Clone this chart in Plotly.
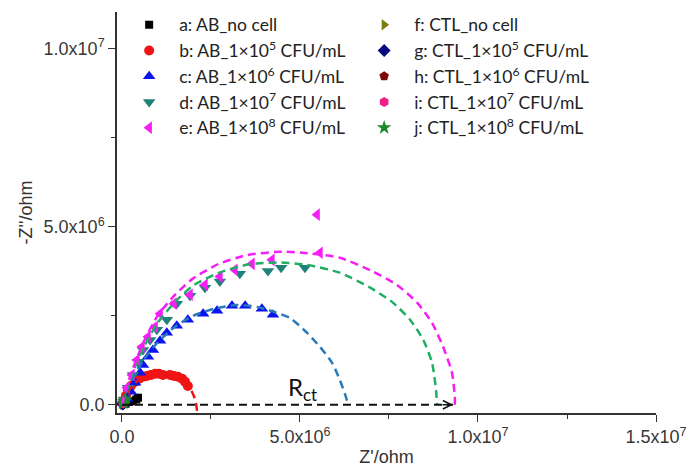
import plotly.graph_objects as go

# ---------------- data (values in ohm, units of 1e6) ----------------
M = 1e6
names = ["a: AB_no cell", "b: AB_1×10<sup>5</sup> CFU/mL", "c: AB_1×10<sup>6</sup> CFU/mL",
         "d: AB_1×10<sup>7</sup> CFU/mL", "e: AB_1×10<sup>8</sup> CFU/mL",
         "f: CTL_no cell", "g: CTL_1×10<sup>5</sup> CFU/mL", "h: CTL_1×10<sup>6</sup> CFU/mL",
         "i: CTL_1×10<sup>7</sup> CFU/mL", "j: CTL_1×10<sup>8</sup> CFU/mL"]

a_x = [0.10, 0.20, 0.30, 0.40, 0.45]
a_y = [0.03, 0.08, 0.10, 0.15, 0.20]

b_x = [0.06, 0.11, 0.17, 0.25, 0.37, 0.48, 0.59, 0.70, 0.81, 0.93, 1.04, 1.15, 1.35, 1.46, 1.57, 1.69, 1.77, 1.85]
b_y = [0.08, 0.25, 0.39, 0.53, 0.65, 0.73, 0.79, 0.81, 0.84, 0.87, 0.87, 0.84, 0.84, 0.81, 0.79, 0.73, 0.65, 0.53]

c_x = [0.06, 0.14, 0.25, 0.37, 0.51, 0.59, 0.73, 0.87, 1.07, 1.26, 1.54, 1.85, 2.28, 2.67, 3.09, 3.46, 3.93, 4.24]
c_y = [0.06, 0.17, 0.37, 0.62, 0.90, 1.12, 1.35, 1.54, 1.80, 2.02, 2.22, 2.39, 2.56, 2.64, 2.78, 2.78, 2.70, 2.53]

d_x = [0.06, 0.17, 0.31, 0.45, 0.59, 0.79, 0.98, 1.26, 1.54, 1.91, 2.33, 2.75, 3.31, 4.10, 4.47, 5.14]
d_y = [0.14, 0.48, 0.84, 1.21, 1.54, 1.82, 2.11, 2.39, 2.84, 3.06, 3.29, 3.46, 3.68, 3.76, 3.85, 3.85]

e_x = [0.03, 0.14, 0.28, 0.42, 0.56, 0.73, 0.93, 1.07, 1.46, 1.91, 2.33, 2.75, 3.17, 3.65, 4.21, 5.48, 5.56]
e_y = [0.14, 0.48, 0.84, 1.26, 1.63, 1.91, 2.19, 2.56, 2.84, 3.09, 3.37, 3.60, 3.79, 3.96, 4.07, 5.34, 4.27]

f_x = [0.02, 0.04, 0.06]
f_y = [0.01, 0.03, 0.05]
g_x = [0.02, 0.04, 0.06]
g_y = [0.02, 0.04, 0.06]
h_x = [0.03, 0.05, 0.08]
h_y = [0.03, 0.06, 0.10]
i_x = [0.03, 0.06, 0.09]
i_y = [0.04, 0.08, 0.12]
j_x = [0.03, 0.06, 0.10]
j_y = [0.05, 0.10, 0.16]

# fitted (dashed) curves
fit_b_x = [0.0, 0.10, 0.30, 0.60, 1.00, 1.40, 1.70, 1.95, 2.07, 2.12]
fit_b_y = [0.0, 0.25, 0.55, 0.78, 0.88, 0.83, 0.70, 0.40, 0.10, -0.30]
fit_c_x = [0.0, 0.10, 0.30, 0.60, 1.00, 1.50, 2.00, 2.60, 3.20, 3.80, 4.30, 4.72, 5.20, 5.56, 5.90, 6.12, 6.29, 6.35]
fit_c_y = [0.0, 0.30, 0.75, 1.25, 1.75, 2.20, 2.50, 2.70, 2.80, 2.75, 2.60, 2.44, 2.02, 1.63, 1.18, 0.70, 0.22, 0.0]
fit_d_x = [0.0, 0.10, 0.30, 0.60, 1.00, 1.50, 2.00, 2.70, 3.50, 4.40, 5.20, 6.12, 6.97, 7.61, 8.09, 8.46, 8.71, 8.82, 8.85]
fit_d_y = [0.0, 0.35, 0.90, 1.60, 2.30, 2.90, 3.35, 3.70, 3.93, 4.00, 3.93, 3.71, 3.29, 2.87, 2.39, 1.83, 1.18, 0.42, 0.0]
fit_e_x = [0.0, 0.10, 0.30, 0.60, 1.00, 1.50, 2.00, 2.70, 3.50, 4.40, 5.30, 6.12, 7.05, 7.72, 8.29, 8.71, 9.02, 9.27, 9.35, 9.35]
fit_e_y = [0.0, 0.40, 1.00, 1.75, 2.50, 3.10, 3.55, 3.95, 4.20, 4.30, 4.25, 4.13, 3.74, 3.37, 2.87, 2.30, 1.63, 0.90, 0.22, 0.0]

rct_x = [0.0, 9.30]
rct_y = [0.0, 0.0]
rct_label = "R<sub>ct</sub>"
rct_label_pos = (5.08, 0.45)

x_tickvals = [0, 5, 10, 15]
x_ticktext = ["0.0", "5.0x10<sup>6</sup>", "1.0x10<sup>7</sup>", "1.5x10<sup>7</sup>"]
y_tickvals = [0, 5, 10]
y_ticktext = ["0.0", "5.0x10<sup>6</sup>", "1.0x10<sup>7</sup>"]

# ---------------- styles ----------------
series = [
    (a_x, a_y, "square", "#000000", 8, "legend"),
    (b_x, b_y, "circle", "#f01414", 10, "legend"),
    (c_x, c_y, "triangle-up", "#0a14f0", 11, "legend"),
    (d_x, d_y, "triangle-down", "#1f8278", 11, "legend"),
    (e_x, e_y, "triangle-left", "#f51ef5", 11, "legend"),
    (f_x, f_y, "triangle-right", "#7d7d10", 10, "legend2"),
    (g_x, g_y, "diamond", "#0a0a80", 10, "legend2"),
    (h_x, h_y, "pentagon", "#7d0a0a", 10, "legend2"),
    (i_x, i_y, "hexagon", "#f0208c", 10, "legend2"),
    (j_x, j_y, "star", "#1a8a2a", 11, "legend2"),
]

fig = go.Figure()
for (xs, ys, sym, col, sz, lg), nm in zip(series, names):
    fig.add_trace(go.Scatter(
        x=[v * M for v in xs], y=[v * M for v in ys], mode="markers", name=nm,
        marker=dict(symbol=sym, color=col, size=sz, line=dict(width=0)),
        legend=lg))

fits = [
    (fit_b_x, fit_b_y, "#f01414"),
    (fit_c_x, fit_c_y, "#2a7ab8"),
    (fit_d_x, fit_d_y, "#1fae62"),
    (fit_e_x, fit_e_y, "#f51ef5"),
]
for xs, ys, col in fits:
    fig.add_trace(go.Scatter(
        x=[v * M for v in xs], y=[v * M for v in ys], mode="lines",
        line=dict(color=col, width=2.5, dash="8px,5px", shape="spline", smoothing=0.6),
        showlegend=False, hoverinfo="skip"))

fig.add_trace(go.Scatter(
    x=[v * M for v in rct_x], y=[v * M for v in rct_y], mode="lines",
    line=dict(color="#111111", width=2, dash="8px,5px"),
    showlegend=False, hoverinfo="skip"))

fig.add_annotation(x=rct_x[1] * M, y=rct_y[1] * M, ax=-12, ay=0, axref="pixel", ayref="pixel",
                   showarrow=True, arrowhead=5, arrowsize=1.1, arrowwidth=1.5,
                   arrowcolor="#111111", text="")
fig.add_annotation(x=rct_label_pos[0] * M, y=rct_label_pos[1] * M, text=rct_label,
                   showarrow=False, font=dict(family="Lato", size=24, color="#111111"))

axis_common = dict(
    showline=True, linecolor="#333333", linewidth=1.5, showgrid=False, zeroline=False,
    ticks="outside", ticklen=7, tickwidth=1.3, tickcolor="#333333",
    tickfont=dict(family="Liberation Sans", size=18, color="#383838"),
    minor=dict(ticks="outside", ticklen=4, tickwidth=1.2, tickcolor="#333333", dtick=2.5 * M),
    mirror=False, automargin=False,
)

legend_font = dict(family="Lato", size=17.5, color="#222222")

fig.update_layout(
    width=688, height=472,
    margin=dict(l=117, r=32, t=12, b=59, autoexpand=False),
    paper_bgcolor="white", plot_bgcolor="white",
    xaxis=dict(range=[-0.14 * M, 15.0 * M], tickvals=[v * M for v in x_tickvals], ticktext=x_ticktext,
               title=dict(text="Z'/ohm", font=dict(family="Liberation Sans", size=18, color="#333333"),
                          standoff=4),
               **axis_common),
    yaxis=dict(range=[-0.23 * M, 11.03 * M], tickvals=[v * M for v in y_tickvals], ticktext=y_ticktext,
               title=dict(text="-Z''/ohm", font=dict(family="Liberation Sans", size=18, color="#333333"),
                          standoff=6),
               **axis_common),
    legend=dict(x=0.004, y=1.013, xanchor="left", yanchor="top", bgcolor="rgba(0,0,0,0)",
                font=legend_font, tracegroupgap=0, itemwidth=50),
    legend2=dict(x=0.44, y=1.013, xanchor="left", yanchor="top", bgcolor="rgba(0,0,0,0)",
                 font=legend_font, tracegroupgap=0, itemwidth=50),
)

fig.write_html("out.html")
